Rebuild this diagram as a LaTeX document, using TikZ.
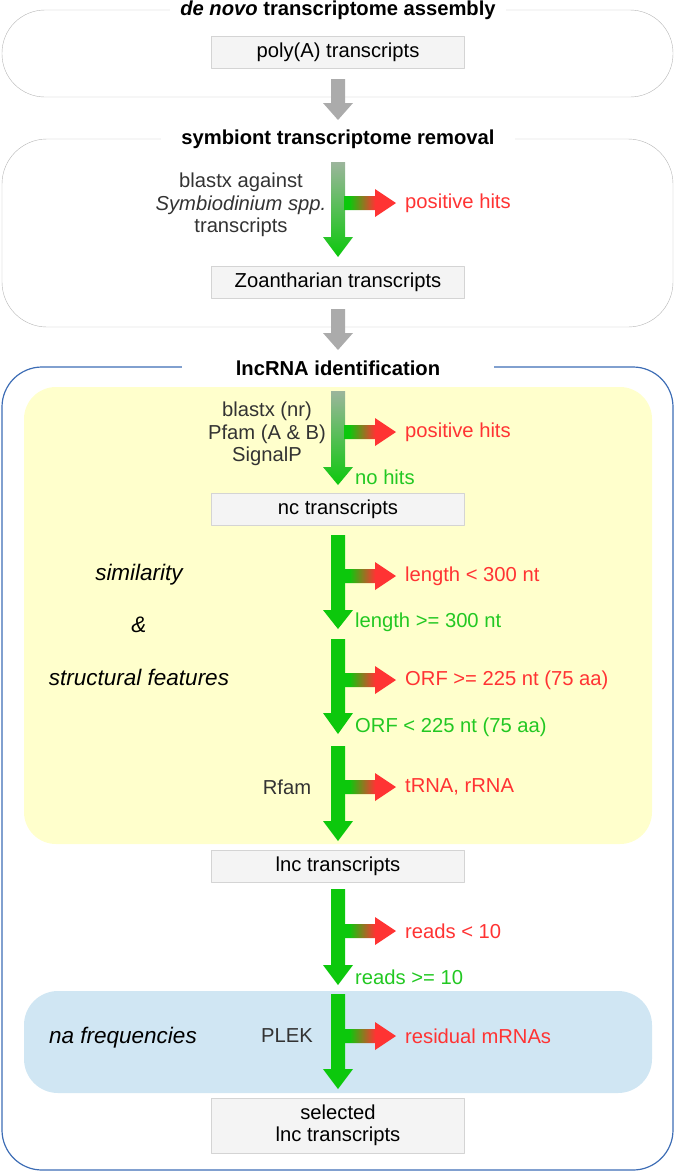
\documentclass[tikz,border=0pt]{standalone}
\usepackage{fontspec}
\setmainfont{Liberation Sans}
\definecolor{boxgray}{HTML}{F4F4F4}
\definecolor{boxline}{HTML}{D4D4D4}
\definecolor{frameline}{HTML}{B4B4B4}
\definecolor{bluefr}{HTML}{3D6DB5}
\definecolor{yellowbg}{HTML}{FFFFCC}
\definecolor{bluebg}{HTML}{D0E6F3}
\definecolor{arrgreen}{HTML}{0CC80C}
\definecolor{fadegreen}{HTML}{9CB59C}
\definecolor{hitred}{HTML}{FF3333}
\definecolor{okgreen}{HTML}{22C822}
\definecolor{arrgray}{HTML}{ABABAB}
\definecolor{tooltext}{HTML}{333333}
\pgfdeclarehorizontalshading{greenred}{100bp}{color(0bp)=(arrgreen); color(30bp)=(arrgreen); color(55bp)=(hitred); color(100bp)=(hitred)}
\newcommand\flowfont{\fontsize{20.2}{22.5}\selectfont}
\newcommand\areafont{\fontsize{22.5}{25}\selectfont}
\tikzset{
  stagebox/.style={draw=boxline, fill=boxgray, minimum width=253pt, minimum height=32pt, inner sep=0pt, align=center},
  stagetitle/.style={fill=white, font=\flowfont\bfseries, inner ysep=2pt},
  droplabel/.style={text=hitred, anchor=west, inner sep=0pt},
  keeplabel/.style={text=okgreen, anchor=west, inner sep=0pt},
  toollabel/.style={text=tooltext, align=center, inner sep=0pt},
  arealabel/.style={font=\areafont\itshape, inner sep=0pt},
}
% block arrows: top, head start, tip, fill
\newcommand\flowdown[4]{\path[#4] (331,#1) -- (345,#1) -- (345,#2) -- (353,#2) -- (338,#3) -- (323,#2) -- (331,#2) -- cycle;}
\newcommand\flowside[1]{\shade[shading=greenred] (344,#1-7) -- (375,#1-7) -- (375,#1-14) -- (396,#1) -- (375,#1+14) -- (375,#1+7) -- (344,#1+7) -- cycle;}
\begin{document}
\begin{tikzpicture}[x=1pt, y=-1pt, font=\flowfont, line join=round]
\useasboundingbox (0,0) rectangle (675,1173);
% frames
\draw[frameline] [rounded corners=43pt] (2,10) rectangle (673,97);
\draw[frameline] [rounded corners=45pt] (2,139) rectangle (673,327);
\draw[bluefr, line width=1.2pt] [rounded corners=40pt] (2,367) rectangle (673,1170);
\fill[yellowbg] [rounded corners=32pt] (24,387) rectangle (652,844);
\fill[bluebg] [rounded corners=34pt] (24,991) rectangle (652,1093);
\node[stagetitle, inner xsep=10pt] (assembly) at (338,10) {\textit{de novo} transcriptome assembly};
\node[stagetitle, inner xsep=20pt] (removal) at (338,139) {symbiont transcriptome removal};
\node[stagetitle, inner xsep=54pt] (ident) at (338,368) {lncRNA identification};
% boxes
\node[stagebox] (poly) at (338,52) {poly(A) transcripts};
\node[stagebox] (zoan) at (338,282.5) {Zoantharian transcripts};
\node[stagebox] (nc) at (338,509) {nc transcripts};
\node[stagebox] (lnc) at (338,866) {lnc transcripts};
\node[stagebox, minimum height=55pt] (sel) at (338,1125.5) {selected\\lnc transcripts};
% arrows
\foreach \t/\h/\e in {79/103/120, 309/333/350}
  {\flowdown{\t}{\h}{\e}{fill=arrgray}}
\foreach \t/\h/\e in {162/237/257, 391/467/485}
  {\flowdown{\t}{\h}{\e}{top color=fadegreen, bottom color=arrgreen}}
\foreach \t/\h/\e in {535/610/629, 639/713/734, 746/821/841, 889/965/985, 994/1069/1089}
  {\flowdown{\t}{\h}{\e}{fill=arrgreen}}
\foreach \y in {203,432,576,680,787,931,1036}
  {\flowside{\y}}
% labels
\node[toollabel] (symb) at (241,205) {blastx against\\\textit{Symbiodinium spp.}\\transcripts};
\node[toollabel] (blast) at (267,434) {blastx (nr)\\Pfam (A \& B)\\SignalP};
\node[toollabel] (rfam) at (287,787) {Rfam};
\node[toollabel] (plek) at (287,1036) {PLEK};
\node[droplabel] (hits1) at (405,203) {positive hits};
\node[droplabel] (hits2) at (405,432) {positive hits};
\node[droplabel] (short) at (405,576) {length < 300 nt};
\node[droplabel] (orf) at (405,680) {ORF >= 225 nt (75 aa)};
\node[droplabel] (rna) at (405,787) {tRNA, rRNA};
\node[droplabel] (few) at (405,931) {reads < 10};
\node[droplabel] (mrna) at (405,1036) {residual mRNAs};
\node[keeplabel] (nohits) at (355,477) {no hits};
\node[keeplabel] (long) at (355,622) {length >= 300 nt};
\node[keeplabel] (noorf) at (355,727) {ORF < 225 nt (75 aa)};
\node[keeplabel] (many) at (355,977) {reads >= 10};
\node[arealabel] (simil) at (139,575) {similarity};
\node[arealabel] (amp) at (139,625) {\&};
\node[arealabel] (struct) at (139,677) {structural features};
\node[arealabel] (freq) at (123,1038) {na frequencies};
\end{tikzpicture}
\end{document}
